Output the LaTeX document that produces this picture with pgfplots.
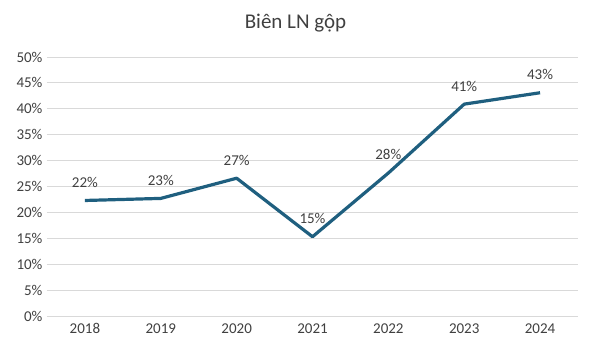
\documentclass[border=0pt]{standalone}
\usepackage{pgfplots}
\pgfplotsset{compat=1.18}
\usepackage{fontspec}
\setmainfont{Carlito}
\definecolor{linec}{HTML}{1F5F7F}
\definecolor{txt}{HTML}{404040}
\definecolor{gridc}{HTML}{D9D9D9}
\begin{document}
\begin{tikzpicture}[x=1pt,y=1pt]
\useasboundingbox (0,0) rectangle (591,352);
\node[font=\fontsize{21}{24}\selectfont, text=txt] at (295.5,329) {Biên LN gộp};
\begin{axis}[
  at={(47pt,36pt)}, anchor=south west,
  scale only axis, width=531pt, height=259pt,
  xmin=-0.5, xmax=6.5, ymin=0, ymax=50,
  xtick={0,...,6}, xticklabels={2018,2019,2020,2021,2022,2023,2024},
  ytick={0,5,...,50},
  yticklabel={\pgfmathprintnumber{\tick}\%},
  /pgf/number format/assume math mode=true,
  ymajorgrids, grid style={gridc, line width=0.8pt},
  axis line style={draw=none},
  major tick length=0pt,
  tick label style={font=\fontsize{15}{17}\selectfont, text=txt},
  xticklabel style={yshift=-4pt},
  yticklabel style={xshift=-1pt},
  clip=false,
]
\addplot[linec, line width=3.2pt, line join=round,
  nodes near coords, point meta=explicit symbolic,
  every node near coord/.append style={font=\fontsize{15}{17}\selectfont, text=txt, anchor=south, yshift=8pt}]
  table[meta=lab] {
x y lab
0 22.3 22\%
1 22.7 23\%
2 26.6 27\%
3 15.3 15\%
4 27.6 28\%
5 40.9 41\%
6 43.1 43\%
};
\end{axis}
\end{tikzpicture}
\end{document}
